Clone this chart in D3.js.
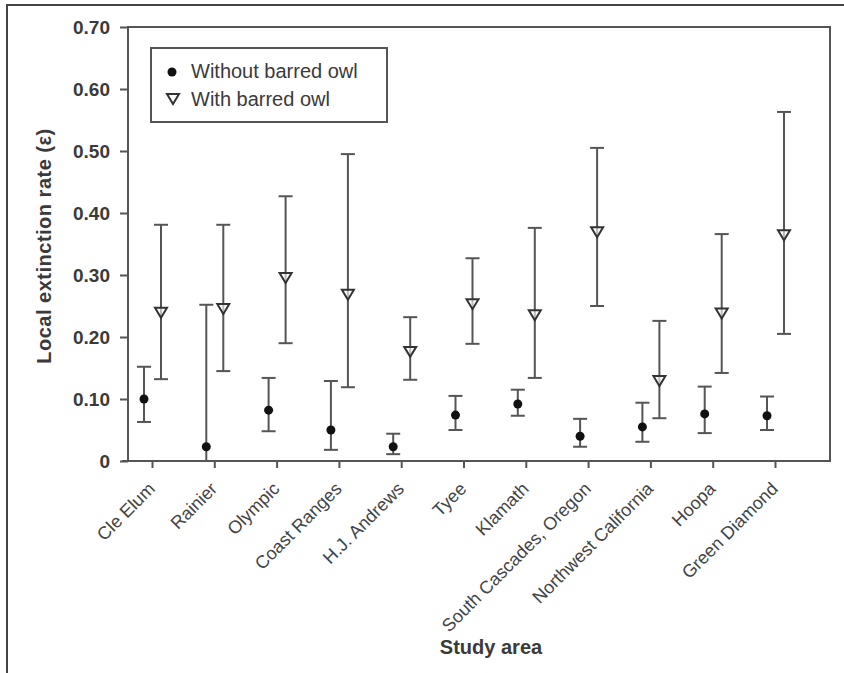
<!DOCTYPE html>
<html>
<head>
<meta charset="utf-8">
<script src="https://cdn.jsdelivr.net/npm/d3@7"></script>
<style>
  html, body { margin: 0; padding: 0; background: #fff; }
  svg { display: block; }
</style>
</head>
<body>
<svg id="chart" width="844" height="673"></svg>
<script>
const categories = ["Cle Elum", "Rainier", "Olympic", "Coast Ranges", "H.J. Andrews", "Tyee", "Klamath", "South Cascades, Oregon", "Northwest California", "Hoopa", "Green Diamond"];
const withoutMean = [0.100, 0.023, 0.082, 0.050, 0.023, 0.074, 0.092, 0.040, 0.055, 0.076, 0.073];
const withoutLow  = [0.063, 0.000, 0.048, 0.018, 0.011, 0.050, 0.073, 0.023, 0.031, 0.045, 0.050];
const withoutHigh = [0.152, 0.252, 0.134, 0.129, 0.044, 0.105, 0.115, 0.068, 0.094, 0.120, 0.104];
const withMean = [0.239, 0.245, 0.295, 0.268, 0.176, 0.253, 0.235, 0.369, 0.129, 0.238, 0.364];
const withLow  = [0.132, 0.145, 0.190, 0.119, 0.131, 0.189, 0.134, 0.250, 0.069, 0.142, 0.205];
const withHigh = [0.381, 0.381, 0.427, 0.495, 0.232, 0.327, 0.376, 0.505, 0.226, 0.366, 0.563];
const yTicks = [0, 0.1, 0.2, 0.3, 0.4, 0.5, 0.6, 0.7];
const yTickLabels = ["0", "0.10", "0.20", "0.30", "0.40", "0.50", "0.60", "0.70"];
const seriesNames = ["Without barred owl", "With barred owl"];
const yTitle = "Local extinction rate (\u03b5)";
const xTitle = "Study area";

const svg = d3.select("#chart");
const font = "'Liberation Sans', Arial, Helvetica, sans-serif";
const lineCol = "#555";
const textCol = "#3a3a3a";

const plotL = 128, plotR = 830, plotT = 27, plotB = 461;
const x = d3.scalePoint().domain(categories).range([152, 775]);
const y = d3.scaleLinear().domain([0, 0.7]).range([plotB, plotT]);

// outer frame
svg.append("rect").attr("x", 7).attr("y", 5).attr("width", 900).attr("height", 700)
  .attr("fill", "none").attr("stroke", "#444").attr("stroke-width", 2);

// y axis
const yAxis = d3.axisLeft(y).tickValues(yTicks).tickSize(8).tickPadding(10)
  .tickFormat((d, i) => yTickLabels[i]);
const gy = svg.append("g").attr("transform", `translate(${plotL},0)`).call(yAxis);
gy.select(".domain").remove();
gy.selectAll(".tick line").attr("stroke", lineCol).attr("stroke-width", 2);
gy.selectAll(".tick text").attr("font-family", font).attr("font-size", 19)
  .attr("font-weight", "bold").attr("fill", textCol);

// x axis
const xAxis = d3.axisBottom(x).tickSize(7).tickFormat("");
const gx = svg.append("g").attr("transform", `translate(0,${plotB})`).call(xAxis);
gx.select(".domain").remove();
gx.selectAll(".tick line").attr("stroke", lineCol).attr("stroke-width", 2);

// x tick labels rotated
svg.append("g").selectAll("text").data(categories).enter().append("text")
  .attr("transform", d => `translate(${x(d) + 4},${plotB + 29}) rotate(-45)`)
  .attr("text-anchor", "end")
  .attr("font-family", font).attr("font-size", 18).attr("fill", "#444")
  .text(d => d);

// plot box
svg.append("path")
  .attr("d", `M${plotL - 6},${plotB}H${plotR}V${plotT}H${plotL}V${plotB}`)
  .attr("fill", "none").attr("stroke", lineCol).attr("stroke-width", 2);

// error bars
const capW = 7;
const offW = -8, offT = 9;
function errorBars(lows, highs, off) {
  const g = svg.append("g").attr("stroke", lineCol).attr("stroke-width", 2).attr("fill", "none");
  categories.forEach((c, i) => {
    const cx = x(c) + off;
    g.append("line").attr("x1", cx).attr("x2", cx).attr("y1", y(lows[i])).attr("y2", y(highs[i]));
    g.append("line").attr("x1", cx - capW).attr("x2", cx + capW).attr("y1", y(lows[i])).attr("y2", y(lows[i]));
    g.append("line").attr("x1", cx - capW).attr("x2", cx + capW).attr("y1", y(highs[i])).attr("y2", y(highs[i]));
  });
}
errorBars(withoutLow, withoutHigh, offW);
errorBars(withLow, withHigh, offT);

// markers
const triPath = "M-6,-5L6,-5L0,5Z";
svg.append("g").selectAll("circle").data(categories).enter().append("circle")
  .attr("cx", d => x(d) + offW).attr("cy", (d, i) => y(withoutMean[i]))
  .attr("r", 4.5).attr("fill", "#111");
svg.append("g").selectAll("path").data(categories).enter().append("path")
  .attr("transform", (d, i) => `translate(${x(d) + offT},${y(withMean[i])})`)
  .attr("d", triPath).attr("fill", "#fff").attr("fill-opacity", 0.6)
  .attr("stroke", "#333").attr("stroke-width", 2);

// legend
const lg = svg.append("g");
lg.append("rect").attr("x", 151).attr("y", 48).attr("width", 236).attr("height", 74)
  .attr("fill", "#fff").attr("stroke", lineCol).attr("stroke-width", 2);
lg.append("circle").attr("cx", 172).attr("cy", 72).attr("r", 4.5).attr("fill", "#111");
lg.append("path").attr("transform", "translate(173,99)").attr("d", triPath)
  .attr("fill", "#fff").attr("stroke", "#333").attr("stroke-width", 2);
lg.selectAll("text.lab").data(seriesNames).enter().append("text")
  .attr("x", 191).attr("y", (d, i) => 78 + i * 28)
  .attr("font-family", font).attr("font-size", 20).attr("fill", textCol)
  .text(d => d);

// axis titles
svg.append("text")
  .attr("transform", `translate(51,246) rotate(-90)`)
  .attr("text-anchor", "middle")
  .attr("font-family", font).attr("font-size", 20).attr("font-weight", "bold")
  .attr("letter-spacing", 0.5).attr("fill", textCol)
  .text(yTitle);
svg.append("text")
  .attr("x", 491).attr("y", 654)
  .attr("text-anchor", "middle")
  .attr("font-family", font).attr("font-size", 20).attr("font-weight", "bold").attr("fill", textCol)
  .text(xTitle);
</script>
</body>
</html>
